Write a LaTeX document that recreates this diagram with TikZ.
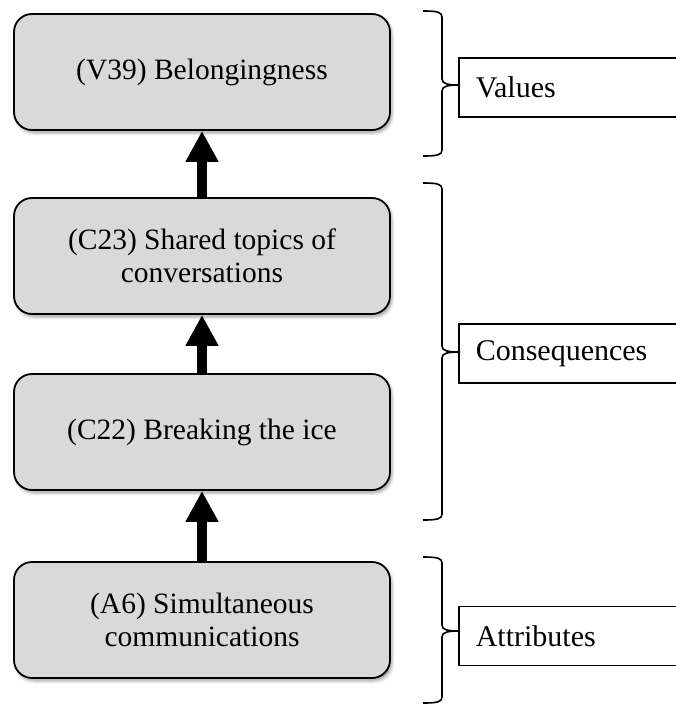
\documentclass[tikz,border=0pt]{standalone}
\usepackage{fontspec}
\setmainfont{Liberation Serif}
\usetikzlibrary{arrows.meta,shadows.blur}

\definecolor{boxgray}{HTML}{D9D9D9}

% right-hand curly brace: #1 top y, #2 tip y, #3 bottom y
\newcommand{\sidebrace}[3]{%
  \draw[bracepen]
    (423,#1) .. controls (437,#1) and (442,#1+1) .. (442,#1+6)
    -- (442,#2-6) .. controls (442,#2-1) and (448,#2) .. (460,#2)
    .. controls (448,#2) and (442,#2+1) .. (442,#2+6)
    -- (442,#3-6) .. controls (442,#3-1) and (437,#3) .. (423,#3);}

\begin{document}
\begin{tikzpicture}[x=1pt,y=-1pt,
  stagebox/.style={draw=black, line width=1.8pt, fill=boxgray,
    rounded corners=18pt, minimum width=376pt, minimum height=116pt,
    align=center, font=\fontsize{29.5}{33}\selectfont,
    blur shadow={shadow xshift=2pt, shadow yshift=-3pt,
      shadow blur radius=3pt, shadow opacity=35}},
  levelbox/.style={draw=black, line width=1.5pt, fill=white,
    anchor=west, minimum height=59pt, inner xsep=17pt,
    text width=206pt, align=left, font=\fontsize{30}{33}\selectfont},
  uparrow/.style={line width=10pt, -{Triangle[width=31pt,length=31pt]}},
  bracepen/.style={line width=1.6pt}]

  \useasboundingbox (0,0) rectangle (675,704);

  % laddering chain
  \node[stagebox] (v39) at (202,72)  {(V39) Belongingness};
  \node[stagebox] (c23) at (202,256) {(C23) Shared topics of\\conversations};
  \node[stagebox] (c22) at (202,432) {(C22) Breaking the ice};
  \node[stagebox] (a6)  at (202,620) {(A6) Simultaneous\\communications};

  \draw[uparrow] (a6.north)  -- (c22.south);
  \draw[uparrow] (c22.north) -- (c23.south);
  \draw[uparrow] (c23.north) -- (v39.south);

  % level labels
  \node[levelbox] (values) at (458,87.5) {Values};
  \node[levelbox] (cons)   at (458,353.5) {Consequences};
  \node[levelbox] (attr)   at (458,636) {Attributes};

  % braces grouping the levels
  \sidebrace{11}{85}{156}
  \sidebrace{183}{352}{520}
  \sidebrace{557}{631}{703}
\end{tikzpicture}
\end{document}
